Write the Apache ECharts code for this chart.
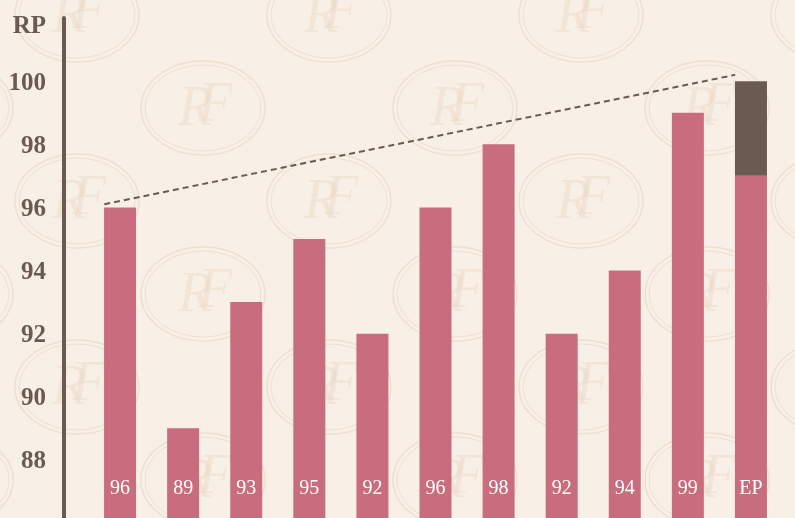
<!DOCTYPE html>
<html>
<head>
<meta charset="utf-8">
<script src="https://cdn.jsdelivr.net/npm/echarts@6/dist/echarts.min.js"></script>
<style>
  html, body { margin: 0; padding: 0; background: #f8f0e6; overflow: hidden; }
  #main { width: 795px; height: 523px; }
</style>
</head>
<body>
<div id="main"></div>
<script>
// data
var categories = ['c1', 'c2', 'c3', 'c4', 'c5', 'c6', 'c7', 'c8', 'c9', 'c10', 'c11'];
var baseValues = [96, 89, 93, 95, 92, 96, 98, 92, 94, 99, 97];
var topValues = [0, 0, 0, 0, 0, 0, 0, 0, 0, 0, 3];
var barLabels = ['96', '89', '93', '95', '92', '96', '98', '92', '94', '99', 'EP'];
var trendPoints = [[-0.25, 96.1], [9.75, 100.2]];

// background monogram pattern
function makePattern() {
  var w = 252, h = 186;
  var c = document.createElement('canvas');
  c.width = w; c.height = h;
  var ctx = c.getContext('2d');
  ctx.fillStyle = '#f8f0e6';
  ctx.fillRect(0, 0, w, h);
  var centers = [[w / 2, h / 2], [0, 0], [w, 0], [0, h], [w, h]];
  centers.forEach(function (p) {
    ctx.strokeStyle = '#eddfd0';
    ctx.lineWidth = 1.5;
    ctx.beginPath();
    ctx.ellipse(p[0], p[1], 62, 47, 0, 0, Math.PI * 2);
    ctx.stroke();
    ctx.lineWidth = 1;
    ctx.beginPath();
    ctx.ellipse(p[0], p[1], 58, 43, 0, 0, Math.PI * 2);
    ctx.stroke();
    ctx.fillStyle = 'rgba(228,206,186,0.3)';
    ctx.font = 'italic 56px "Liberation Serif"';
    ctx.textAlign = 'center';
    ctx.textBaseline = 'middle';
    ctx.fillText('R', p[0] - 8, p[1] + 2);
    ctx.fillText('F', p[0] + 12, p[1] - 2);
  });
  return c.toDataURL();
}
var main = document.getElementById('main');
main.style.backgroundImage = 'url(' + makePattern() + ')';
main.style.backgroundPosition = '77px 15px';

var myChart = echarts.init(main);
var option = {
  backgroundColor: 'transparent',
  animation: false,
  grid: { left: 88.5, right: 12.5, top: 18, bottom: 0 },
  xAxis: [{
    type: 'category',
    data: categories,
    show: false
  }, {
    type: 'value',
    min: -0.5,
    max: 10.5,
    show: false
  }],
  yAxis: {
    type: 'value',
    min: 86,
    max: 102,
    interval: 2,
    offset: 24.5,
    axisLine: { show: true, onZero: false, lineStyle: { color: '#6b5a52', width: 4 } },
    axisTick: { show: false },
    splitLine: { show: false },
    axisLabel: {
      margin: 18,
      color: '#6b5a52',
      fontFamily: 'Liberation Serif',
      fontWeight: 'bold',
      fontSize: 25,
      padding: [4, 0, 0, 0],
      formatter: function (v) {
        if (v === 102) return '{rp|RP}';
        if (v === 86) return '';
        return v;
      },
      rich: {
        rp: {
          color: '#6b5a52',
          fontFamily: 'Liberation Serif',
          fontWeight: 'bold',
          fontSize: 25,
          padding: [14, 0, 0, 0]
        }
      }
    }
  },
  series: [{
    type: 'bar',
    stack: 'total',
    data: baseValues,
    barWidth: 32,
    itemStyle: { color: '#c96d7e' },
    label: {
      show: true,
      position: 'insideBottom',
      distance: 24,
      color: '#ffffff',
      fontFamily: 'Liberation Serif',
      fontSize: 20,
      formatter: function (p) { return barLabels[p.dataIndex]; }
    }
  }, {
    type: 'bar',
    stack: 'total',
    data: topValues,
    barWidth: 32,
    itemStyle: { color: '#6b5a52' }
  }, {
    type: 'line',
    xAxisIndex: 1,
    data: trendPoints,
    symbol: 'none',
    lineStyle: { color: '#6b5a52', width: 2, type: [6, 4] },
    z: 5
  }]
};
myChart.setOption(option);
</script>
</body>
</html>
